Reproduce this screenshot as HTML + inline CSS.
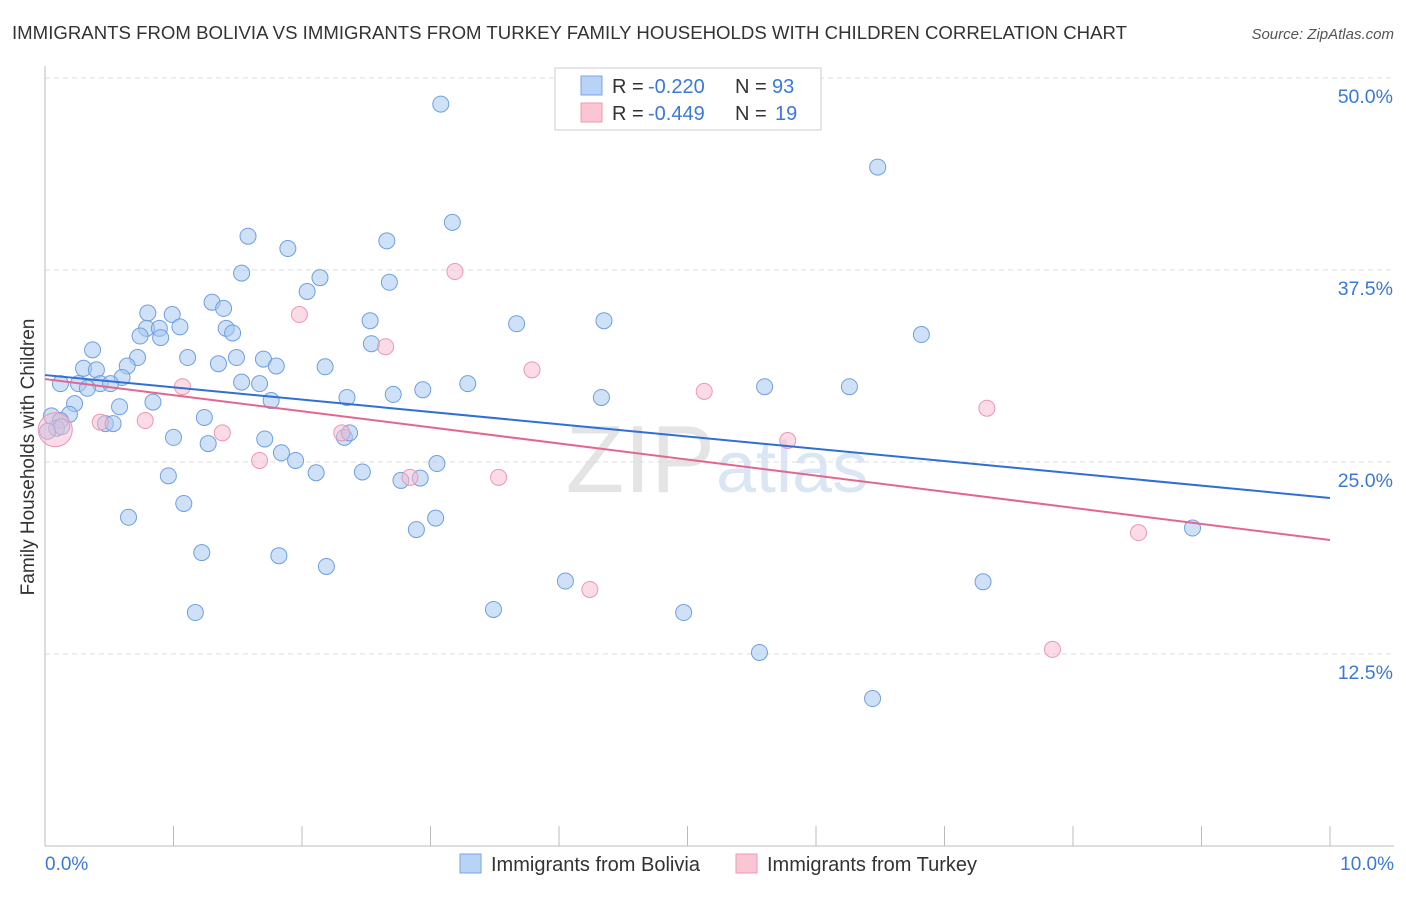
<!DOCTYPE html>
<html><head><meta charset="utf-8"><style>
body{margin:0;background:#fff;width:1406px;height:892px;overflow:hidden;font-family:"Liberation Sans",sans-serif;}
svg text{font-family:"Liberation Sans",sans-serif;}
</style></head><body>
<svg id="chart" width="1406" height="892">
<text x="12" y="39" font-size="18.6" fill="#333" textLength="1115">IMMIGRANTS FROM BOLIVIA VS IMMIGRANTS FROM TURKEY FAMILY HOUSEHOLDS WITH CHILDREN CORRELATION CHART</text>
<text x="1394" y="39" font-size="15" fill="#555" font-style="italic" text-anchor="end">Source: ZipAtlas.com</text>
<text x="715" y="492" font-size="96" fill="#e4e4e4" text-anchor="end" font-family="Liberation Serif">ZIP</text>
<text x="716" y="492" font-size="72" fill="#dbe6f5">atlas</text>
<text transform="translate(34,457) rotate(-90)" font-size="19" fill="#333" text-anchor="middle">Family Households with Children</text>
<g id="grid"></g><g id="pts"></g>
<rect x="555" y="68" width="266" height="62" fill="#fff" stroke="#ccc"/>
<rect x="581" y="76" width="21" height="19" fill="#b8d3f5" stroke="#7aa6e6"/>
<rect x="581" y="103" width="21" height="19" fill="#fbc6d4" stroke="#ee9ab2"/>
<g font-size="20">
<text x="612" y="93" fill="#333">R =</text><text x="648" y="93" fill="#3b78d8">-0.220</text>
<text x="735" y="93" fill="#333">N =</text><text x="772" y="93" fill="#3b78d8">93</text></g>
<g font-size="20">
<text x="612" y="120" fill="#333">R =</text><text x="648" y="120" fill="#3b78d8">-0.449</text>
<text x="735" y="120" fill="#333">N =</text><text x="775" y="120" fill="#3b78d8">19</text></g>
<rect x="460" y="854" width="21" height="19" fill="#b8d3f5" stroke="#7aa6e6"/>
<text x="491" y="871" font-size="20" fill="#333">Immigrants from Bolivia</text>
<rect x="736" y="854" width="21" height="19" fill="#fbc6d4" stroke="#ee9ab2"/>
<text x="767" y="871" font-size="20" fill="#333">Immigrants from Turkey</text>
</svg>
<script>
const yTicks=[12.5,25,37.5,50];
const yTickLabels=["12.5%","25.0%","37.5%","50.0%"];
const xEndLabels=["0.0%","10.0%"];
const boliviaX=[3.08,6.48,3.17,1.58,2.66,1.89,1.53,2.14,2.68,2.04,1.30,1.39,0.80,0.99,2.53,3.67,4.35,0.79,0.89,1.05,1.41,1.46,0.74,0.90,6.82,2.54,0.37,1.11,1.35,1.49,1.70,1.80,2.18,0.72,0.64,0.30,0.40,0.60,0.12,0.26,0.43,0.51,0.33,1.53,1.67,3.29,2.94,2.71,2.35,5.60,6.26,4.33,0.84,1.76,0.58,0.23,0.19,0.05,0.12,0.09,0.47,0.53,1.24,1.00,1.27,1.71,2.33,2.37,1.84,1.95,3.05,0.96,2.11,2.47,2.77,2.92,1.08,0.65,3.04,2.89,8.93,1.22,1.82,2.19,4.05,7.30,3.49,1.17,4.97,5.56,6.44,0.13,0.02];
const boliviaY=[48.3,44.2,40.6,39.7,39.4,38.9,37.3,37.0,36.7,36.1,35.4,35.0,34.7,34.6,34.2,34.0,34.2,33.7,33.7,33.8,33.7,33.4,33.2,33.1,33.3,32.7,32.3,31.8,31.4,31.8,31.7,31.25,31.2,31.8,31.25,31.1,31.0,30.5,30.1,30.1,30.1,30.1,29.8,30.2,30.1,30.1,29.7,29.4,29.2,29.9,29.9,29.2,28.9,29.0,28.6,28.8,28.1,28.0,27.7,27.2,27.5,27.5,27.9,26.6,26.2,26.5,26.6,26.9,25.6,25.1,24.9,24.1,24.3,24.35,23.8,23.95,22.3,21.4,21.35,20.6,20.7,19.1,18.9,18.2,17.25,17.2,15.4,15.2,15.2,12.6,9.6,27.3,27.0];
const turkeyX=[3.19,1.98,2.65,3.79,1.07,5.13,7.33,0.78,0.43,1.38,2.31,5.78,1.67,2.84,3.53,8.51,4.24,7.84,0.08];
const turkeyY=[37.4,34.6,32.5,31.0,29.9,29.6,28.5,27.7,27.6,26.9,26.9,26.4,25.1,24.0,24.0,20.4,16.7,12.8,27.1];
const boliviaTrend=[30.66,22.66];
const turkeyTrend=[30.4,19.92];
const NS="http://www.w3.org/2000/svg";
const X0=45,X1=1330,Y0=846,YS=768/50;
const sx=v=>X0+(v/10)*(X1-X0);
const sy=v=>Y0-v*YS;
function mk(tag,attrs,parent){const e=document.createElementNS(NS,tag);for(const k in attrs)e.setAttribute(k,attrs[k]);parent.appendChild(e);return e;}
const grid=document.getElementById('grid');
yTicks.forEach((t,i)=>{
 const l=mk('line',{x1:X0,x2:1394,y1:sy(t),y2:sy(t),stroke:'#ddd','stroke-dasharray':'5,4'},grid);
 
 
 const tx=mk('text',{x:1393,y:sy(t)+25,'font-size':19.5,fill:'#3b78d8','text-anchor':'end'},grid);
 tx.textContent=yTickLabels[i];
 
 
});
const ya=mk('line',{x1:X0,x2:X0,y1:66,y2:846,stroke:'#bbb'},grid);


const xa=mk('line',{x1:X0,x2:1394,y1:846,y2:846,stroke:'#bbb'},grid);


for(let i=1;i<=10;i++){
 const tk=mk('line',{x1:X0+i*128.5,x2:X0+i*128.5,y1:826,y2:846,stroke:'#bbb'},grid);
 
 
}
const xl0=mk('text',{x:45,y:870,'font-size':19,fill:'#3b78d8'},grid);xl0.textContent=xEndLabels[0];


const xl1=mk('text',{x:1394,y:870,'font-size':19,fill:'#3b78d8','text-anchor':'end'},grid);xl1.textContent=xEndLabels[1];


const pts=document.getElementById('pts');
boliviaX.forEach((x,i)=>{
 const c=mk('circle',{cx:sx(x),cy:sy(boliviaY[i]),r:8,fill:'rgba(168,200,240,0.55)',stroke:'#6f9fe0','stroke-width':1},pts);
 
 
});
turkeyX.forEach((x,i)=>{
 const big=i===turkeyX.length-1;
 const c=mk('circle',{cx:sx(x),cy:sy(turkeyY[i]),r:big?17:8,fill:'rgba(248,185,205,0.5)',stroke:'#eb97b0','stroke-width':1},pts);
 
 
});
const bl=mk('line',{x1:sx(0),y1:sy(boliviaTrend[0]),x2:sx(10),y2:sy(boliviaTrend[1]),stroke:'#2f6fd6','stroke-width':2},pts);


const tl=mk('line',{x1:sx(0),y1:sy(turkeyTrend[0]),x2:sx(10),y2:sy(turkeyTrend[1]),stroke:'#e4668f','stroke-width':2},pts);


</script>
</body></html>
